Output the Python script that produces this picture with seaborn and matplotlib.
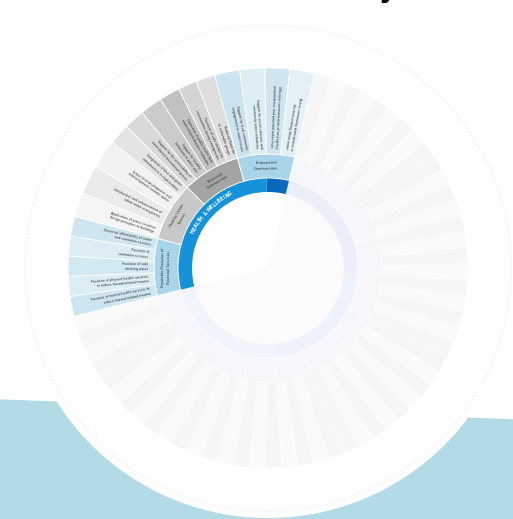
import numpy as np
import matplotlib.pyplot as plt
import seaborn as sns
from matplotlib.patches import Polygon

sns.set_theme(style='white')
plt.rcParams['font.family'] = ['DejaVu Sans']

# --- data (angles in degrees, read clockwise from the lower left) ---
goal = 'HEALTH & WELLBEING'
start_angle = 194.0

subgoals = ['Equitable Provision of\nEssential Services', 'Healthy Urban\nSpaces',
            'Protected\nCommunities', 'Empowered\nCommunities']
subgoal_colors = ['#a9d5ea', '#c8c8c8', '#a4a4a4', '#a9d5ea']

indicators = [
    ['Provision of mental health services to\nreduce hazard-related trauma',
     'Provision of physical health services\nto reduce hazard-related trauma',
     'Provision of safe\ndrinking water',
     'Provision of\nsanitation services',
     'Universal affordability of water\nand sanitation services'],
    ['Application of water sensitive\ndesign principles to buildings',
     'Introduction and enhancement of\nurban water ecosystems',
     'Urban land development and\nredevelopment consider water',
     'Integration of blue and green\ninfrastructure in regeneration'],
    ['Support for the accessibility of\nwater-based recreational spaces',
     'Support for healthy\nbehaviour in water use',
     'Protection of public health from\nwater-related disease outbreaks',
     'Provision of safe shelter for\ncommunities during emergencies',
     'Reduced flood risk\nto vulnerable groups'],
    ['Support for local community\nengagement in water issues',
     'Support for social cohesion and\ncommunity water initiatives',
     'Effective communication of emergency\npreparedness and potential water risks',
     'Active community participation in\ndecision-making about water'],
]
indicator_widths = [
    [5.8, 5.8, 5.8, 5.8, 5.8],
    [7.0, 8.5, 8.5, 6.0],
    [6.0, 6.5, 6.0, 5.5, 5.5],
    [7.3, 7.3, 7.2, 7.2],
]
indicator_colors = [
    ['#cde5f0', '#dbedf5', '#d2e8f2', '#dcedf5', '#cfe6f1'],
    ['#f5f5f5', '#ebebeb', '#f2f2f2', '#e3e3e3'],
    ['#d9d9d9', '#cbcbcb', '#c1c1c1', '#d4d4d4', '#dedede'],
    ['#cbe4f0', '#ddeef5', '#cfe6f1', '#e3f1f7'],
]

inner_spans = [103.0, 14.5]
inner_colors = ['#1492da', '#0b68bd']

# the rest of the wheel is faded out
faded_goal_spans = [80.0, 82.5, 80.0]
faded_indicator_counts = [[4, 5, 4, 4], [5, 4, 5, 4], [4, 4, 5, 4]]
faded_inner_colors = ['#eceefa', '#edf2fb', '#f0f4fb']

R0, R1, R2, R3, R4 = 76, 90, 114, 200, 250


def arc_bar(ax, start, width, r0, r1, color, lw=0.6, ec='white'):
    """Segment running clockwise from `start` over `width` degrees."""
    theta = np.deg2rad(start - width / 2)
    ax.bar(theta, r1 - r0, width=np.deg2rad(width), bottom=r0,
           color=color, edgecolor=ec, linewidth=lw, align='center')


W, H = 513, 519
fig = plt.figure(figsize=(W / 100, H / 100), dpi=100)
fig.patch.set_facecolor('white')

# light blue band behind the wheel
band = Polygon([(0, 0), (0, (H - 400) / H), (1, (H - 420) / H), (1, 0)],
               closed=True, transform=fig.transFigure, color='#b3dbe6', zorder=-5)
fig.patches.append(band)

cx, cy = 268, 268
ax = fig.add_axes([(cx - R4) / W, (H - cy - R4) / H, 2 * R4 / W, 2 * R4 / H],
                  projection='polar')
ax.set_zorder(2)
ax.set_facecolor('white')
ax.set_ylim(0, R4)
ax.set_xticks([])
ax.set_yticks([])
ax.grid(False)
ax.spines['polar'].set_visible(False)

# faded part of the wheel
a = start_angle - sum(inner_spans)
arc_bar(ax, a, 360 - sum(inner_spans), 0, R0, '#fbfbfb', lw=0)
for span, counts, icol in zip(faded_goal_spans, faded_indicator_counts, faded_inner_colors):
    arc_bar(ax, a, span, R0, R1, icol, lw=0)
    n_total = sum(counts)
    b = a
    for n in counts:
        sub_span = span * n / n_total
        arc_bar(ax, b, sub_span, R1, R2, '#f6f7fa', lw=0.5)
        c = b
        for k in range(n):
            arc_bar(ax, c, sub_span / n, R2, R3,
                    '#f6f6f7' if k % 2 == 0 else '#fafafa', lw=0.4)
            c -= sub_span / n
        b -= sub_span
    a -= span

# faint outer ring of text
t = np.linspace(0, 2 * np.pi, 400)
ax.plot(t, np.full_like(t, 243), ls=':', color='#eeeeee', lw=1.0)

# inner ring: goal
a = start_angle
for span, col in zip(inner_spans, inner_colors):
    arc_bar(ax, a, span, R0, R1, col, lw=0)
    a -= span

# curved goal label
mid, step = 135.5, 2.15
for i, ch in enumerate(goal):
    ang = mid + step * ((len(goal) - 1) / 2 - i)
    ax.text(np.deg2rad(ang), (R0 + R1) / 2, ch, color='white', fontsize=3.4,
            fontweight='bold', ha='center', va='center',
            rotation=ang - 90, rotation_mode='anchor')

# middle ring and outer ring
a = start_angle
for sub, scol, names, widths, cols in zip(subgoals, subgoal_colors, indicators,
                                          indicator_widths, indicator_colors):
    span = sum(widths)
    arc_bar(ax, a, span, R1, R2, scol, lw=0.6)
    m = a - span / 2
    ax.text(np.deg2rad(m), (R1 + R2) / 2, sub, fontsize=2.6, color='#333333',
            ha='center', va='center', rotation=m - 90, rotation_mode='anchor',
            linespacing=1.5)
    b = a
    for name, w, c in zip(names, widths, cols):
        arc_bar(ax, b, w, R2, R3, c, lw=0.6)
        m2 = b - w / 2
        ax.text(np.deg2rad(m2), R2 + 6, name, fontsize=2.3, color='#333333',
                ha='right', va='center', rotation=m2 - 180,
                rotation_mode='anchor', multialignment='right', linespacing=1.3)
        b -= w
    a -= span

# cropped title above the canvas
fig.text(388 / W, 1 + 3 / H, 'y', fontsize=20, fontweight='bold',
         color='black', ha='center', va='baseline')

fig.savefig('out.png', dpi=100, facecolor='white')
